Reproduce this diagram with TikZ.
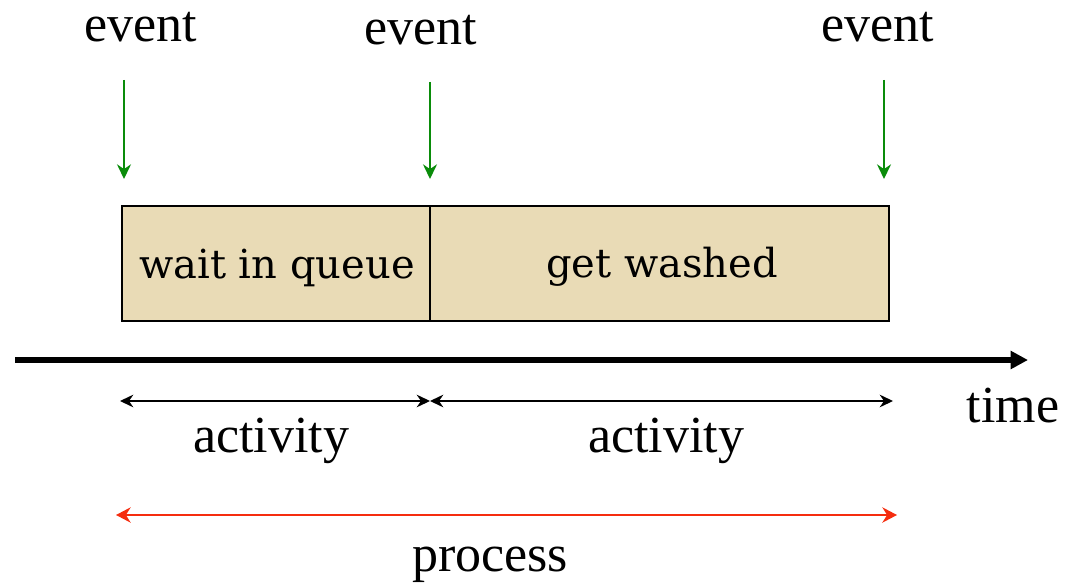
\documentclass[tikz,border=0pt]{standalone}
\usepackage{fontspec}
\setmainfont{Liberation Serif}
\newfontfamily\boxfont{DejaVu Serif}
\usetikzlibrary{arrows.meta}
\definecolor{sand}{RGB}{233,219,182}
\definecolor{evgreen}{RGB}{10,140,10}
\definecolor{procred}{RGB}{245,45,15}

\begin{document}
\begin{tikzpicture}[x=0.75pt,y=-0.75pt,
    label/.style={anchor=base,inner sep=0pt,font=\fontsize{39}{44}\selectfont},
    stage/.style={draw,line width=1.3pt,fill=sand,minimum height=86.25pt,inner sep=0pt,
                  font=\boxfont\fontsize{30}{36}\selectfont},
    evarrow/.style={draw=evgreen,line width=1.4pt,-{Stealth[length=11pt,width=10.5pt]}},
    span/.style={line width=1pt,{Stealth[length=10pt,width=9.5pt]}-{Stealth[length=10pt,width=9.5pt]}},
    whole/.style={draw=procred,line width=1.4pt,{Stealth[length=11pt,width=11.5pt]}-{Stealth[length=11pt,width=11.5pt]}}]
  \useasboundingbox (0,0) rectangle (1066,588);
  % Enter label
  \node[label] (evone) at (141,42) {event};
  \node[label] (evtwo) at (421,45) {event};
  \node[label] (evthree) at (878,42) {event};
  % Boxes
  \node[stage,minimum width=231pt] (queue) at (276,263.5) {};
  \node[stage,minimum width=344.25pt] (wash) at (659.5,263.5) {};
  \node[anchor=base,inner sep=0pt,font=\boxfont\fontsize{30}{36}\selectfont] (queuetxt) at (277,278) {wait in queue};
  \node[anchor=base,inner sep=0pt,font=\boxfont\fontsize{30}{36}\selectfont] (washtxt) at (662,277) {get washed};
  % Pfeile
  \coordinate (evonetop) at (124,80);
  \coordinate (evonetip) at (124,179);
  \coordinate (evtwotop) at (430,82);
  \coordinate (evtwotip) at (430,179);
  \coordinate (evthreetop) at (884,80);
  \coordinate (evthreetip) at (884,179);
  \draw[evarrow] (evonetop) -- (evonetip);
  \draw[evarrow] (evtwotop) -- (evtwotip);
  \draw[evarrow] (evthreetop) -- (evthreetip);
  % time axis
  \coordinate (tstart) at (15,360);
  \coordinate (tend) at (1028,360);
  \draw[line width=4.5pt,-{Triangle[length=13pt,width=13pt]}] (tstart) -- (tend);
  \node[label] (time) at (1013,422) {time};
  % activities
  \coordinate (aone) at (120,401);
  \coordinate (amid) at (430,401);
  \coordinate (atwo) at (893,401);
  \draw[span] (aone) -- (amid);
  \draw[span] (amid) -- (atwo);
  \node[label] (actone) at (271,452) {activity};
  \node[label] (acttwo) at (666,452) {activity};
  % process
  \coordinate (pone) at (116,515);
  \coordinate (ptwo) at (897,515);
  \draw[whole] (pone) -- (ptwo);
  \node[label] (proc) at (490,571) {process};
\end{tikzpicture}
\end{document}
